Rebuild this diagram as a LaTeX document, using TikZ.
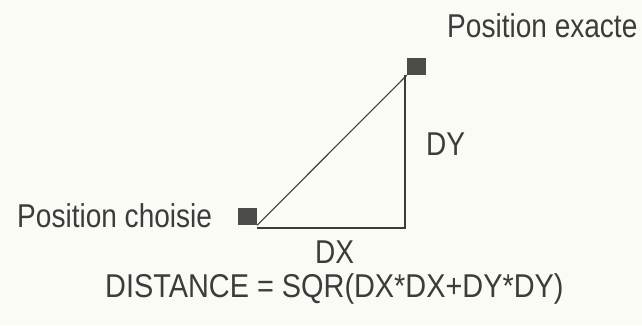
\documentclass[tikz,border=0pt]{standalone}
\usepackage{fontspec}
\newfontfamily\nf[FakeStretch=0.85]{Liberation Sans}
\newfontfamily\nff[FakeStretch=0.875]{Liberation Sans}
\definecolor{bg}{RGB}{251,251,246}
\definecolor{ink}{RGB}{60,60,60}
\definecolor{sq}{RGB}{75,75,72}
\begin{document}
\begin{tikzpicture}[x=1pt,y=-1pt,
  lbl/.style={anchor=base west,inner sep=0pt,text=ink,font=\nf\fontsize{33}{33}\selectfont},
  pt/.style={fill=sq,draw=none,minimum width=19pt,minimum height=17pt,inner sep=0pt},
  ln/.style={draw=ink,line width=1.1pt}]
\fill[bg] (0,0) rectangle (642,325);
\useasboundingbox (0,0) rectangle (642,325);
\coordinate (corner) at (405,228);
\node[pt] (exacte) at (416.5,66.5) {};
\node[pt] (choisie) at (247.5,216.5) {};
\draw[ln] (choisie.south east) -- (exacte.south west);
\draw[ln] (choisie.east |- corner) -- (corner) -- (exacte.south west -| corner);
\node[lbl] (lex) at (447,37) {Position exacte};
\node[lbl] (lch) at (17,227) {Position choisie};
\node[lbl] (dx) at (315,263) {DX};
\node[lbl] (dy) at (426,155) {DY};
\node[lbl,font=\nff\fontsize{33}{33}\selectfont] (form) at (105,297) {DISTANCE = SQR(DX*DX+DY*DY)};
\end{tikzpicture}
\end{document}
